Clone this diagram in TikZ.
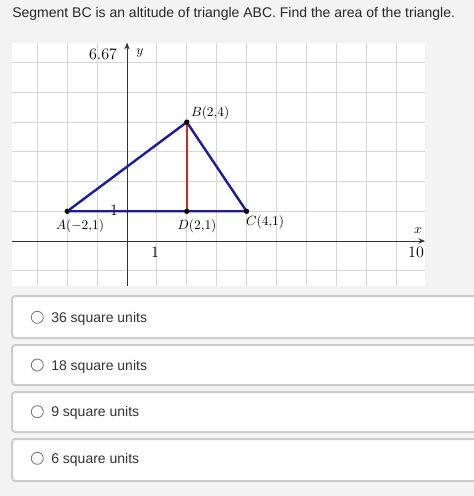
\documentclass[tikz,border=0pt]{standalone}
\usepackage{fontspec}
\setmainfont{Liberation Sans}
\usetikzlibrary{positioning,arrows.meta}

\definecolor{pagebg}{HTML}{F3F3F3}
\definecolor{gridgray}{HTML}{D6D6D6}
\definecolor{boxgray}{HTML}{CCCCCC}
\definecolor{triblue}{HTML}{1C1CA0}
\definecolor{altred}{HTML}{CC2A2A}
\definecolor{textgray}{HTML}{333333}

\tikzset{
  pt/.style = {circle, fill=black, inner sep=0pt, minimum size=4pt},
  lbl/.style = {inner sep=0pt, font=\fontsize{10}{12}\selectfont},
  numlbl/.style = {inner sep=0pt, font=\fontsize{12}{14}\selectfont},
  optbox/.style = {draw=boxgray, line width=1.5pt, fill=white, rounded corners=2.5pt},
  radio/.style = {circle, draw=black!55, line width=0.6pt, inner sep=0pt, minimum size=9pt},
  opt/.style = {inner sep=0pt, text depth=0pt, text=textgray, font=\fontsize{10.5}{12}\selectfont}
}

\begin{document}
\begin{tikzpicture}[x=0.75pt, y=0.75pt]
\useasboundingbox (0,0) rectangle (474,-496);
\fill[pagebg] (0,0) rectangle (474,-496);
\node[anchor=base west, inner sep=0pt, text=black!85, font=\fontsize{10.5}{12}\selectfont] (title) at (12,-17) {Segment BC is an altitude of triangle ABC. Find the area of the triangle.};

\begin{scope}[shift={(127,-241)}, x=22.42pt, y=22.29pt]
\fill[white] (-3.85,-1.51) rectangle (9.97,6.67);
\draw[gridgray, line width=0.6pt, step={(1,1)}] (-3.85,-1.51) grid (9.97,6.67);
\draw[black!80, line width=0.6pt, -{Stealth[length=5pt, width=4pt]}] (-3.85,0) -- (9.97,0);
\draw[black!80, line width=0.6pt, -{Stealth[length=5pt, width=4pt]}] (0,-1.51) -- (0,6.67);
\node[lbl] (xlab) at (9.73,0.34) {$x$};
\node[lbl] (ylab) at (0.43,6.33) {$y$};
\node[numlbl] (ymax) at (-0.80,6.29) {$6.67$};
\node[numlbl] (xten) at (9.67,-0.37) {$10$};
\node[numlbl] (xone) at (0.94,-0.37) {$1$};
\node[numlbl] (yone) at (-0.43,1.04) {$1$};
\coordinate (A) at (-2,1);
\coordinate (B) at (2,4);
\coordinate (C) at (4,1);
\coordinate (D) at (2,1);
\draw[triblue, line width=1.8pt, line join=round] (A) -- (B) -- (C) -- cycle;
\draw[altred, line width=1.8pt] (B) -- (D);
\node[pt] (Apt) at (A) {};
\node[pt] (Bpt) at (B) {};
\node[pt] (Cpt) at (C) {};
\node[pt] (Dpt) at (D) {};
\node[lbl] (Alab) at (-1.57,0.50) {$A(-2{,}1)$};
\node[lbl] (Blab) at (2.78,4.31) {$B(2{,}4)$};
\node[lbl] (Clab) at (4.62,0.64) {$C(4{,}1)$};
\node[lbl] (Dlab) at (2.34,0.50) {$D(2{,}1)$};
\end{scope}

\draw[optbox] (12,-296) rectangle (482,-338);
\draw[optbox] (12,-345) rectangle (482,-385);
\draw[optbox] (12,-392) rectangle (482,-432);
\draw[optbox] (12,-439) rectangle (482,-481);
\node[radio] (r1) at (37.3,-317.3) {};
\node[radio] (r2) at (37.3,-365) {};
\node[radio] (r3) at (37.3,-411.7) {};
\node[radio] (r4) at (37.3,-458.3) {};
\node[opt, right=5.5pt of r1] (o1) {36 square units};
\node[opt, right=5.5pt of r2] (o2) {18 square units};
\node[opt, right=5.5pt of r3] (o3) {9 square units};
\node[opt, right=5.5pt of r4] (o4) {6 square units};
\end{tikzpicture}
\end{document}
